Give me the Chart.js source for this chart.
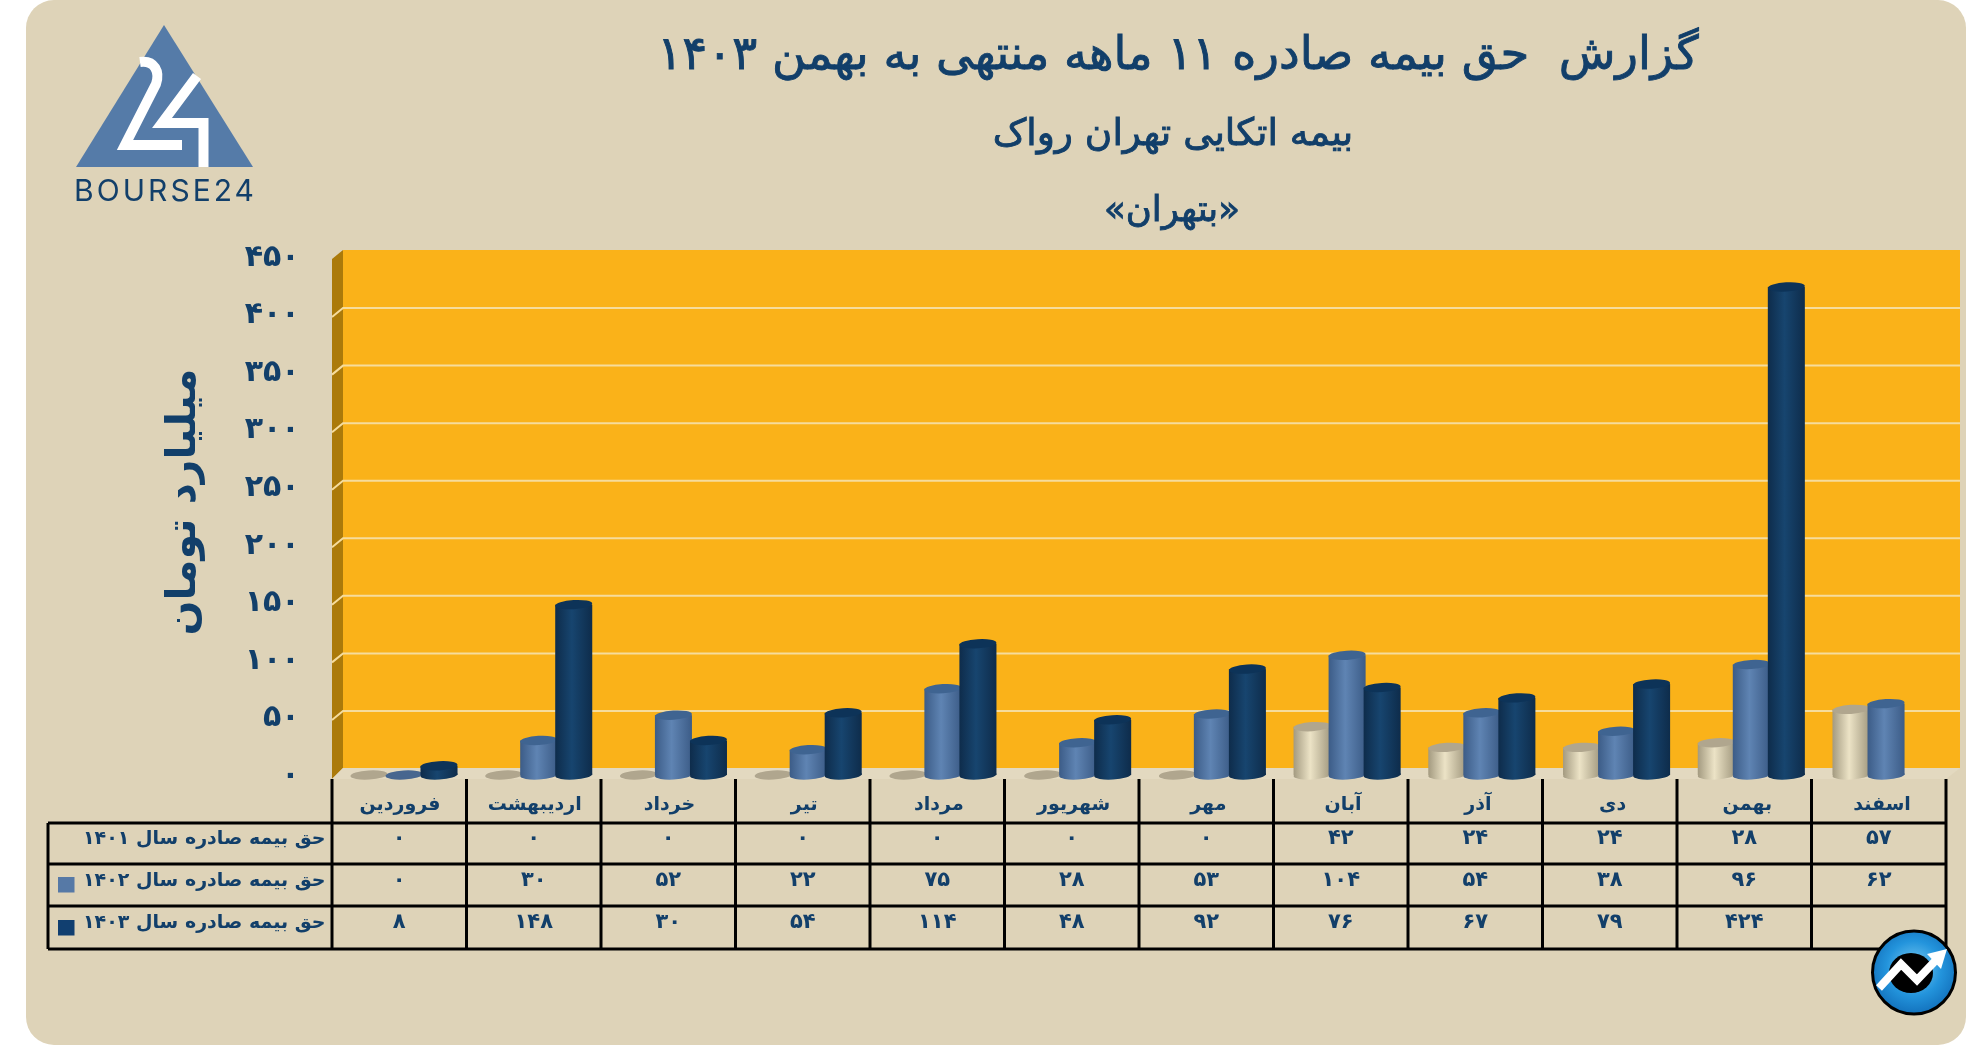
<!DOCTYPE html>
<html lang="fa">
<head>
<meta charset="utf-8">
<title>گزارش حق بیمه صادره</title>
<script src="https://cdn.jsdelivr.net/npm/chart.js@4"></script>
<style>
    html, body { margin: 0; padding: 0; background: #fff; overflow: hidden; }
    #page { position: relative; width: 1986px; height: 1045px; overflow: hidden; font-family: "DejaVu Sans", sans-serif; }
    #card { position: absolute; left: 26px; top: 0; width: 1940px; height: 1045px; background: #ded3b8; border-radius: 28px; }
    #chart { position: absolute; left: 0; top: 0; }
    #art { position: absolute; left: 0; top: 0; }
    .heading { position: absolute; color: #123f6a; white-space: pre; direction: rtl; transform: translate(-50%, -50%); line-height: 1; -webkit-text-stroke: 0.9px #123f6a; }
</style>
</head>
<body>
<div id="page">
    <div id="card"></div>
    <canvas id="chart" width="1986" height="1045"></canvas>
    <div class="heading" style="left:1178px;top:53px;font-size:46.5px;">گزارش  حق بیمه صادره ۱۱ ماهه منتهی به بهمن ۱۴۰۳</div>
    <div class="heading" style="left:1173px;top:133px;font-size:37.5px;">بیمه اتکایی تهران رواک</div>
    <div class="heading" style="left:1172px;top:209px;font-size:35.5px;">«بتهران»</div>
    <svg id="art" width="1986" height="1045" viewBox="0 0 1986 1045">
        <defs>
            <radialGradient id="badgeBlue" cx="50%" cy="45%" r="55%">
                <stop offset="0" stop-color="#7fcdf2"/>
                <stop offset="0.6" stop-color="#2394dc"/>
                <stop offset="1" stop-color="#1372bd"/>
            </radialGradient>
        </defs>
        <polygon points="164,25 76,167 253,167" fill="#557ba8"/>
        <path d="M140,62 C155,60 160,72 156,84 L125,145 L182,145" fill="none" stroke="#fff" stroke-width="10"/>
        <path d="M197,76 L162,123 L203.5,123 L203.5,167" fill="none" stroke="#fff" stroke-width="10"/>
        <text x="74" y="201" font-family="Inter, sans-serif" font-size="30" font-weight="400" fill="#123f6a" textLength="180" lengthAdjust="spacing">BOURSE24</text>
        <circle cx="1914" cy="972.5" r="41.5" fill="url(#badgeBlue)" stroke="#000" stroke-width="3"/>
        <ellipse cx="1911" cy="973" rx="22" ry="20" fill="#000"/>
        <polyline points="1879,988 1901,964 1917,980 1938,958" fill="none" stroke="#fff" stroke-width="8"/>
        <polygon points="1947,949 1941,969 1927,954" fill="#fff"/>
    </svg>
</div>

<script>
const categories = ["فروردین", "اردیبهشت", "خرداد", "تیر", "مرداد", "شهریور", "مهر", "آبان", "آذر", "دی", "بهمن", "اسفند"];
const seriesNames = ["حق بیمه صادره سال ۱۴۰۱", "حق بیمه صادره سال ۱۴۰۲", "حق بیمه صادره سال ۱۴۰۳"];
const values1401 = [0, 0, 0, 0, 0, 0, 0, 42, 24, 24, 28, 57];
const values1402 = [0, 30, 52, 22, 75, 28, 53, 104, 54, 38, 96, 62];
const values1403 = [8, 148, 30, 54, 114, 48, 92, 76, 67, 79, 424, null];
const axisTitle = "میلیارد تومان";

const ink = "#123f6a";
const fontName = '"DejaVu Sans", sans-serif';

// side colours of each cylinder: edge, highlight, cap, flat disc for zero
const cream = { edge: "#a39a80", light: "#ece3c6", cap: "#b0a68e", flat: "#b0a68e" };
const steel = { edge: "#3c5c87", light: "#5f84b3", cap: "#3f6491", flat: "#47668f" };
const navy = { edge: "#0e2c4b", light: "#17456f", cap: "#0d3358", flat: "#0d3358" };
const palette = [cream, steel, navy];

// back wall and table geometry of the picture
const wall = { left: 343, right: 1960, top: 250, bottom: 768, frontLeft: 332, frontRight: 1946, frontBottom: 779, frontTop: 259 };
const table = { left: 48, first: 332, right: 1946, rows: [823, 864, 906, 949], textY: [839, 881, 923] };
const swatchY = [null, 877, 920];

function toPersian(val) {
    return String(val).replace(/\d/g, d => "۰۱۲۳۴۵۶۷۸۹"[d]);
}

function sideGradient(ctx, el, colors) {
    const half = el.width / 2;
    const g = ctx.createLinearGradient(el.x - half, 0, el.x + half, 0);
    g.addColorStop(0, colors.edge);
    g.addColorStop(0.45, colors.light);
    g.addColorStop(1, colors.edge);
    return g;
}

function disc(ctx, x, y, rx, fill) {
    ctx.beginPath();
    ctx.ellipse(x, y, rx, 4.6, -0.06, 0, Math.PI * 2);
    ctx.fillStyle = fill;
    ctx.fill();
}

// orange wall, side strip, floor and the lines on the wall
const wallPlugin = {
    id: "wall",
    beforeDatasetsDraw(chart) {
        const ctx = chart.ctx;
        const y = chart.scales.y;
        ctx.save();
        ctx.fillStyle = "#fab219";
        ctx.fillRect(wall.left, wall.top, wall.right - wall.left, wall.bottom - wall.top);
        ctx.fillStyle = "#ab7a0a";
        ctx.beginPath();
        ctx.moveTo(wall.frontLeft, wall.frontTop);
        ctx.lineTo(wall.left, wall.top);
        ctx.lineTo(wall.left, wall.bottom);
        ctx.lineTo(wall.frontLeft, wall.frontBottom);
        ctx.closePath();
        ctx.fill();
        ctx.fillStyle = "#e3d9c0";
        ctx.beginPath();
        ctx.moveTo(wall.left, wall.bottom);
        ctx.lineTo(wall.right, wall.bottom);
        ctx.lineTo(wall.frontRight, wall.frontBottom);
        ctx.lineTo(wall.frontLeft, wall.frontBottom);
        ctx.closePath();
        ctx.fill();

        ctx.strokeStyle = "#f6dc9c";
        ctx.lineWidth = 2;
        y.ticks.forEach(tick => {
            if (tick.value === 0 || tick.value === y.max) return;
            const py = y.getPixelForValue(tick.value) - 6.5;
            ctx.beginPath();
            ctx.moveTo(wall.frontLeft, py + 9);
            ctx.lineTo(wall.left, py);
            ctx.lineTo(wall.right, py);
            ctx.stroke();
        });
        ctx.restore();
    },
    // the library would paint the first series on top, the picture has the last one on top
    beforeDatasetDraw() {
        return false;
    },
    afterDatasetsDraw(chart) {
        const ctx = chart.ctx;
        chart.data.datasets.forEach((ds, di) => {
            const colors = palette[di];
            chart.getDatasetMeta(di).data.forEach((el, i) => {
                if (ds.data[i] === null) return;
                const rx = el.width / 2;
                if (ds.data[i] === 0) {
                    disc(ctx, el.x, el.base, rx, colors.flat);
                    return;
                }
                const side = sideGradient(ctx, el, colors);
                disc(ctx, el.x, el.base, rx, side);
                ctx.save();
                ctx.fillStyle = side;
                ctx.fillRect(el.x - rx, el.y, el.width, el.base - el.y);
                ctx.restore();
                disc(ctx, el.x, el.y, rx, colors.cap);
            });
        });
    }
};

// data table under the chart, and the axis title
const tablePlugin = {
    id: "dataTable",
    afterDraw(chart) {
        const ctx = chart.ctx;
        const step = (table.right - table.first) / categories.length;
        const rowValues = [values1401, values1402, values1403];
        ctx.save();
        ctx.strokeStyle = "#000";
        ctx.lineWidth = 3;
        table.rows.forEach(py => {
            ctx.beginPath();
            ctx.moveTo(table.left, py);
            ctx.lineTo(table.right, py);
            ctx.stroke();
        });
        ctx.beginPath();
        ctx.moveTo(table.left, table.rows[0]);
        ctx.lineTo(table.left, table.rows[3]);
        ctx.stroke();
        for (let i = 0; i <= categories.length; i++) {
            const px = table.first + step * i;
            ctx.beginPath();
            ctx.moveTo(px, wall.frontBottom);
            ctx.lineTo(px, table.rows[3] + 1);
            ctx.stroke();
        }

        ctx.fillStyle = ink;
        ctx.textBaseline = "middle";
        rowValues.forEach((vals, r) => {
            ctx.font = "bold 21px " + fontName;
            ctx.textAlign = "center";
            vals.forEach((v, i) => {
                if (v === null) return;
                ctx.fillText(toPersian(v), table.first + step * (i + 0.5), table.textY[r]);
            });
            ctx.font = "bold 19px " + fontName;
            ctx.direction = "rtl";
            ctx.textAlign = "left";
            ctx.fillText(seriesNames[r], 83, table.textY[r]);
            ctx.direction = "ltr";
            if (swatchY[r] !== null) {
                ctx.fillStyle = r === 1 ? "#5679a6" : "#113f70";
                ctx.fillRect(58, swatchY[r], 16.5, 15.5);
                ctx.fillStyle = ink;
            }
        });

        ctx.translate(184, 502);
        ctx.rotate(-Math.PI / 2);
        ctx.textAlign = "center";
        ctx.font = "bold 41px " + fontName;
        ctx.fillText(axisTitle, 0, 0);
        ctx.restore();
    }
};

new Chart(document.getElementById("chart"), {
    type: "bar",
    data: {
        labels: categories,
        datasets: [
            { label: seriesNames[0], data: values1401, backgroundColor: cream.light },
            { label: seriesNames[1], data: values1402, backgroundColor: steel.light },
            { label: seriesNames[2], data: values1403, backgroundColor: navy.light }
        ]
    },
    options: {
        responsive: false,
        devicePixelRatio: 1,
        animation: false,
        layout: { padding: { left: 236.6, right: 32.6, top: 257, bottom: 223 } },
        datasets: { bar: { categoryPercentage: 0.78, barPercentage: 1.057 } },
        plugins: { legend: { display: false }, tooltip: { enabled: false } },
        scales: {
            x: {
                grid: { display: false },
                border: { display: false },
                afterFit(scale) { scale.height = 47; },
                ticks: {
                    autoSkip: false,
                    maxRotation: 0,
                    padding: 11,
                    labelOffset: -4,
                    color: ink,
                    font: { family: fontName, size: 19, weight: "bold" }
                }
            },
            y: {
                min: 0,
                max: 450,
                grid: { display: false },
                border: { display: false },
                afterFit(scale) { scale.width = 100; },
                ticks: {
                    stepSize: 50,
                    padding: 29,
                    labelOffset: 1,
                    color: ink,
                    font: { family: fontName, size: 30, weight: "bold" },
                    callback: v => toPersian(v)
                }
            }
        }
    },
    plugins: [wallPlugin, tablePlugin]
});
</script>
</body>
</html>
